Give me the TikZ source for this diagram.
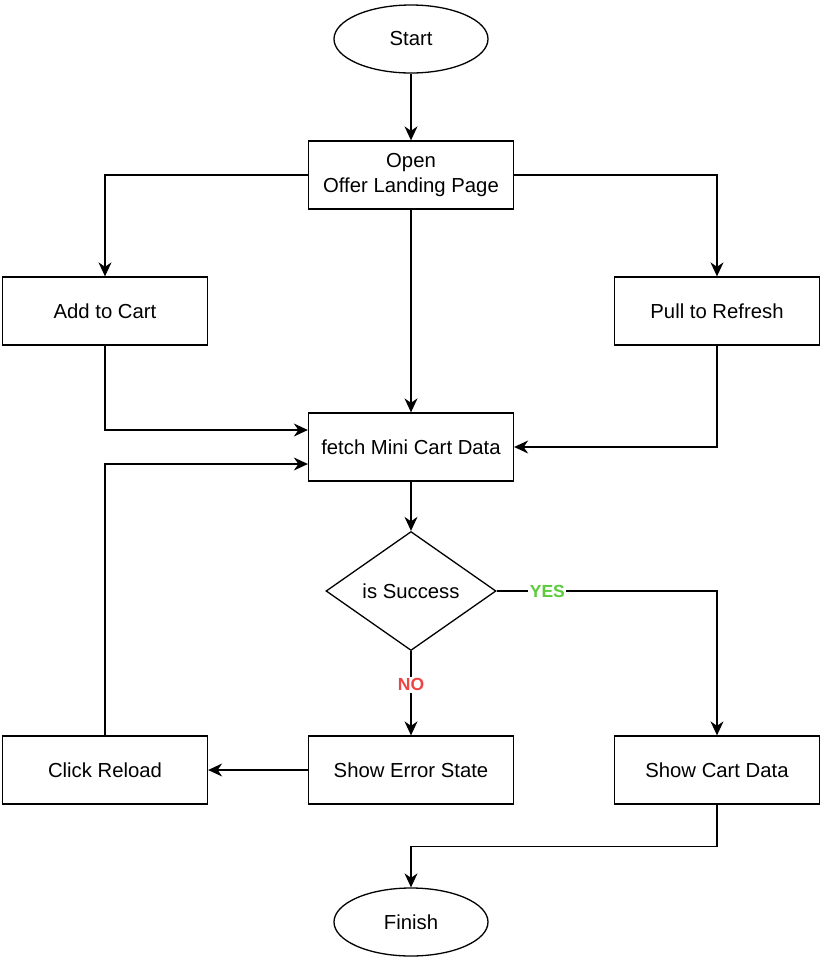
\documentclass[tikz,border=0pt]{standalone}
\usepackage{fontspec}
\setmainfont{Liberation Sans}
\usetikzlibrary{shapes.geometric,arrows.meta}
\definecolor{yesgreen}{HTML}{5ACC3C}
\definecolor{nored}{HTML}{EE4444}
\tikzset{
  box/.style={draw, line width=1.3pt, rectangle, minimum width=205pt, minimum height=68pt, inner sep=0pt, align=center, font=\fontsize{20.3}{25}\selectfont},
  term/.style={draw, line width=1.3pt, ellipse, minimum width=154pt, minimum height=68pt, inner sep=0pt, font=\fontsize{20.3}{25}\selectfont},
  decide/.style={draw, line width=1.3pt, diamond, minimum width=170pt, minimum height=119pt, inner sep=0pt, font=\fontsize{20.3}{25}\selectfont},
  arr/.style={draw, line width=1.3pt, -{Stealth[length=14pt,width=13pt,inset=4.5pt]}},
  lbl/.style={fill=white, inner sep=1.5pt, font=\fontsize{17.5}{20}\selectfont\bfseries}
}
\begin{document}
\begin{tikzpicture}[x=1pt,y=-1pt]
\useasboundingbox (0,0) rectangle (823,962);
\node[term] (start) at (411,39) {Start};
\node[box] (open) at (411,175) {Open\\Offer Landing Page};
\node[box] (add) at (105,311) {Add to Cart};
\node[box] (pull) at (717,311) {Pull to Refresh};
\node[box] (fetch) at (411,447) {fetch Mini Cart Data};
\node[decide] (dia) at (411,591) {is Success};
\node[box] (err) at (411,770) {Show Error State};
\node[box] (reload) at (105,770) {Click Reload};
\node[box] (cart) at (717,770) {Show Cart Data};
\node[term] (finish) at (411,922) {Finish};

\draw[arr] (start) -- (open);
\draw[arr] (open.west) -| (add.north);
\draw[arr] (open.east) -| (pull.north);
\draw[arr] (open) -- (fetch);
\draw[arr] (add.south) |- ([yshift=17pt]fetch.west);
\draw[arr] (pull.south) |- (fetch.east);
\draw[arr] (reload.north) |- ([yshift=-17pt]fetch.west);
\draw[arr] (fetch) -- (dia);
\draw[arr] (dia.east) -| node[lbl, text=yesgreen, pos=0.115] {YES} (cart.north);
\draw[arr] (dia.south) -- node[lbl, text=nored, pos=0.4] {NO} (err.north);
\draw[arr] (err) -- (reload);
\draw[arr] (cart.south) -- ++(0,42) -| (finish.north);
\end{tikzpicture}
\end{document}
